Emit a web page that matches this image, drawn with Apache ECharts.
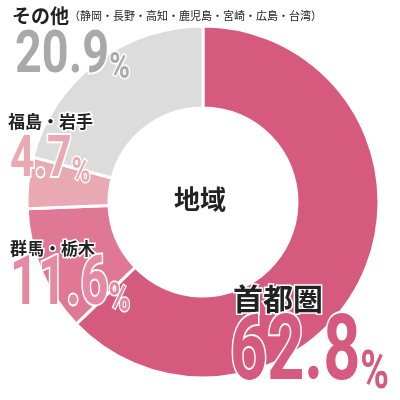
<!DOCTYPE html><html><head><meta charset="utf-8"><script src="https://cdn.jsdelivr.net/npm/echarts@6/dist/echarts.min.js"></script></head><body style="margin:0"><div id="c" style="width:400px;height:400px"></div><script>
const categories=['首都圏','群馬・栃木','福島・岩手','その他'];
const values=[62.8,11.6,4.7,20.9];
const colors=['#d65a7e','#e07895','#e8a9b3','#dcdcdc'];
const numColors=['#d65a7e','#e58aa2','#e8a9b3','#a9a9a9'];
const note='（静岡・長野・高知・鹿児島・宮崎・広島・台湾）';
const ch=echarts.init(document.getElementById('c'));
const nf='Roboto,sans-serif';
const jf='"Noto Sans CJK JP",sans-serif';
function name(i,x,y,size,extra){
  return {type:'text',x:x,y:y,z:10,style:{text:'{n|'+categories[i]+'}'+(extra?'{s|'+extra+'}':''),verticalAlign:'top',
    rich:{n:{fontFamily:jf,fontWeight:'bold',fontSize:size,fill:'#222',stroke:'#fff',lineWidth:3},
      s:{fontFamily:jf,fontSize:11,fill:'#222'}}}};
}
function num(i,x,y,ns,sx){
  return {type:'text',x:x,y:y,scaleX:sx,z:10,style:{text:'{v|'+values[i].toFixed(1)+'}{p|%}',verticalAlign:'top',
    rich:{v:{fontFamily:nf,fontWeight:'bold',fontSize:ns,fill:numColors[i],stroke:'#fff',lineWidth:4},
      p:{fontFamily:nf,fontWeight:'bold',fontSize:ns*0.6,fill:numColors[i],stroke:'#fff',lineWidth:3,verticalAlign:'bottom'}}}};
}
ch.setOption({
 series:[{type:'pie',radius:[94,176],center:[203,202],startAngle:90,clockwise:true,label:{show:false},silent:true,
  itemStyle:{borderColor:'#fff',borderWidth:3},
  data:categories.map((c,i)=>({name:c,value:values[i],itemStyle:{color:colors[i]}}))}],
 graphic:[
  name(3,12,6,19,note), num(3,15,27,60,0.78),
  name(2,8,113,17), num(2,10,133,57,0.75),
  name(1,10,240,17), num(1,10,253,68,0.72),
  name(0,233,284,30), num(0,230,311,90,0.72),
  {type:'text',x:174,y:186,style:{text:'地域',verticalAlign:'top',fontFamily:jf,fontWeight:'bold',fontSize:26,fill:'#222'}}
 ]});
</script></body></html>
